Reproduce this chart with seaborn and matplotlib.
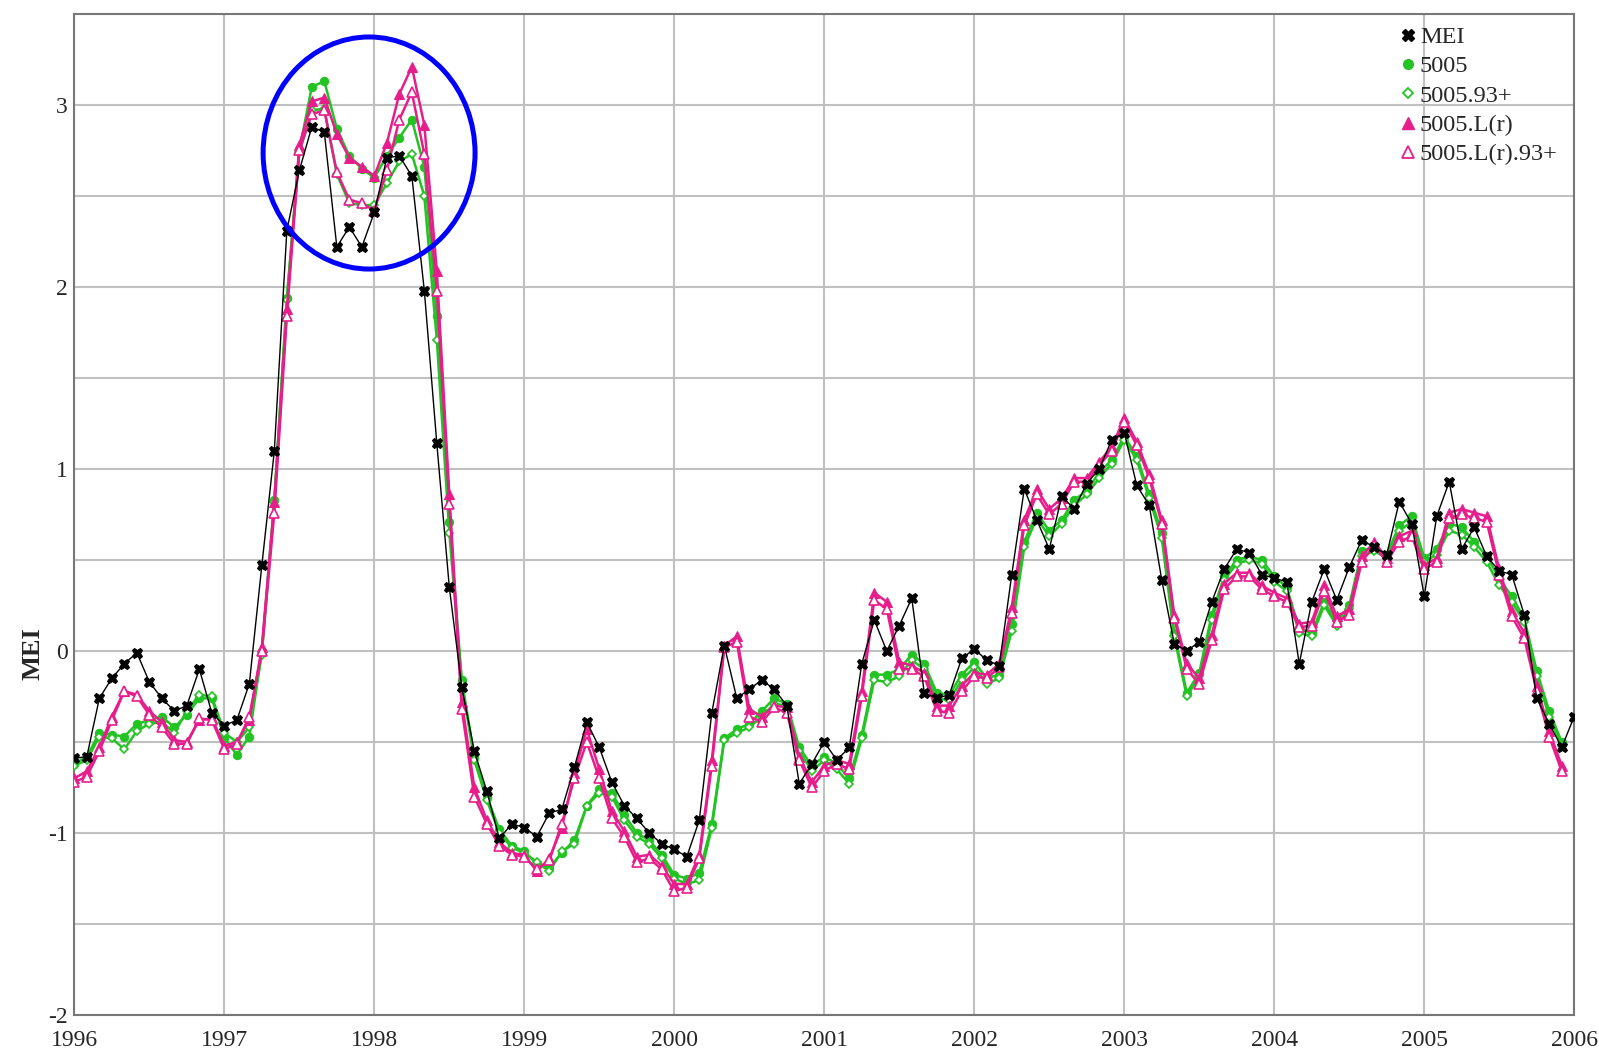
import numpy as np
import matplotlib
matplotlib.use("Agg")
import matplotlib.pyplot as plt
from matplotlib.lines import Line2D
from matplotlib.patches import Ellipse
import seaborn as sns

# monthly values, Jan 1996 ...
mei = [-0.59, -0.58, -0.26, -0.15, -0.07, -0.01, -0.17, -0.26, -0.33, -0.30, -0.10, -0.34,
       -0.41, -0.38, -0.18, 0.47, 1.10, 2.31, 2.64, 2.88, 2.85, 2.22, 2.33, 2.22,
       2.41, 2.71, 2.72, 2.61, 1.98, 1.14, 0.35, -0.20, -0.55, -0.77, -1.03, -0.95,
       -0.97, -1.02, -0.89, -0.87, -0.64, -0.39, -0.53, -0.72, -0.85, -0.92, -1.00, -1.06,
       -1.09, -1.13, -0.93, -0.34, 0.03, -0.26, -0.21, -0.16, -0.21, -0.30, -0.73, -0.62,
       -0.50, -0.60, -0.53, -0.07, 0.17, 0.00, 0.14, 0.29, -0.23, -0.26, -0.24, -0.04,
       0.01, -0.05, -0.08, 0.42, 0.89, 0.72, 0.56, 0.85, 0.78, 0.92, 1.00, 1.16,
       1.20, 0.91, 0.80, 0.39, 0.04, 0.00, 0.05, 0.27, 0.45, 0.56, 0.54, 0.42,
       0.40, 0.38, -0.07, 0.27, 0.45, 0.28, 0.46, 0.61, 0.57, 0.53, 0.82, 0.70,
       0.30, 0.74, 0.93, 0.56, 0.68, 0.52, 0.44, 0.42, 0.20, -0.26, -0.40, -0.53,
       -0.36]

m5005 = [-0.62, -0.58, -0.45, -0.46, -0.47, -0.40, -0.38, -0.36, -0.42, -0.35, -0.26, -0.26,
         -0.48, -0.57, -0.47, 0.00, 0.83, 1.94, 2.75, 3.10, 3.13, 2.87, 2.72, 2.65,
         2.60, 2.72, 2.82, 2.92, 2.66, 1.84, 0.71, -0.16, -0.58, -0.80, -0.98, -1.07,
         -1.10, -1.17, -1.19, -1.11, -1.04, -0.85, -0.76, -0.78, -0.90, -1.00, -1.04, -1.12,
         -1.23, -1.25, -1.22, -0.95, -0.48, -0.43, -0.40, -0.33, -0.26, -0.29, -0.53, -0.63,
         -0.58, -0.62, -0.70, -0.46, -0.13, -0.13, -0.10, -0.02, -0.07, -0.23, -0.24, -0.13,
         -0.06, -0.15, -0.13, 0.15, 0.60, 0.76, 0.66, 0.72, 0.83, 0.88, 0.98, 1.05,
         1.18, 1.07, 0.86, 0.65, 0.10, -0.23, -0.12, 0.20, 0.41, 0.50, 0.52, 0.50,
         0.41, 0.35, 0.12, 0.10, 0.27, 0.16, 0.25, 0.55, 0.57, 0.53, 0.69, 0.74,
         0.51, 0.56, 0.70, 0.68, 0.60, 0.52, 0.40, 0.30, 0.18, -0.11, -0.33, -0.50]

m5005_93 = [-0.63, -0.60, -0.47, -0.48, -0.54, -0.44, -0.40, -0.39, -0.45, -0.33, -0.24, -0.25,
            -0.45, -0.50, -0.42, -0.02, 0.82, 1.93, 2.74, 2.97, 2.98, 2.62, 2.46, 2.45,
            2.45, 2.57, 2.69, 2.73, 2.50, 1.71, 0.65, -0.18, -0.60, -0.82, -1.00, -1.08,
            -1.11, -1.16, -1.21, -1.10, -1.06, -0.85, -0.78, -0.80, -0.93, -1.02, -1.06, -1.14,
            -1.25, -1.28, -1.26, -0.97, -0.49, -0.45, -0.42, -0.36, -0.29, -0.30, -0.55, -0.66,
            -0.60, -0.65, -0.73, -0.48, -0.16, -0.17, -0.14, -0.05, -0.10, -0.26, -0.27, -0.16,
            -0.09, -0.18, -0.15, 0.11, 0.57, 0.73, 0.63, 0.70, 0.80, 0.86, 0.95, 1.03,
            1.16, 1.05, 0.84, 0.62, 0.08, -0.25, -0.14, 0.17, 0.39, 0.48, 0.50, 0.48,
            0.38, 0.33, 0.10, 0.08, 0.25, 0.14, 0.23, 0.52, 0.55, 0.51, 0.66, 0.71,
            0.49, 0.53, 0.66, 0.64, 0.57, 0.49, 0.36, 0.27, 0.16, -0.14, -0.36, -0.52]

m5005_lr = [-0.70, -0.66, -0.53, -0.36, -0.22, -0.24, -0.33, -0.39, -0.49, -0.50, -0.38, -0.37,
            -0.52, -0.50, -0.38, 0.02, 0.82, 1.88, 2.78, 3.02, 3.04, 2.84, 2.71, 2.66,
            2.61, 2.79, 3.06, 3.21, 2.89, 2.09, 0.86, -0.28, -0.75, -0.93, -1.05, -1.11,
            -1.12, -1.21, -1.14, -0.97, -0.67, -0.43, -0.65, -0.88, -0.99, -1.13, -1.12, -1.18,
            -1.28, -1.28, -1.12, -0.60, 0.03, 0.08, -0.32, -0.36, -0.30, -0.31, -0.58, -0.72,
            -0.63, -0.60, -0.62, -0.22, 0.32, 0.27, -0.06, -0.08, -0.12, -0.30, -0.30, -0.19,
            -0.12, -0.13, -0.07, 0.24, 0.72, 0.89, 0.78, 0.84, 0.95, 0.95, 1.04, 1.12,
            1.28, 1.15, 0.97, 0.72, 0.20, -0.07, -0.15, 0.09, 0.37, 0.43, 0.43, 0.36,
            0.32, 0.29, 0.15, 0.16, 0.36, 0.19, 0.23, 0.52, 0.60, 0.51, 0.63, 0.66,
            0.47, 0.51, 0.76, 0.78, 0.76, 0.74, 0.45, 0.22, 0.10, -0.19, -0.44, -0.63]

m5005_lr_93 = [-0.72, -0.69, -0.55, -0.38, -0.22, -0.25, -0.35, -0.42, -0.51, -0.51, -0.37, -0.38,
               -0.54, -0.51, -0.36, 0.00, 0.76, 1.84, 2.75, 2.95, 2.97, 2.63, 2.48, 2.46,
               2.42, 2.64, 2.92, 3.07, 2.73, 1.98, 0.81, -0.32, -0.80, -0.95, -1.07, -1.12,
               -1.13, -1.20, -1.15, -0.95, -0.70, -0.50, -0.70, -0.92, -1.02, -1.16, -1.14, -1.20,
               -1.32, -1.30, -1.14, -0.63, 0.02, 0.05, -0.36, -0.39, -0.31, -0.34, -0.60, -0.75,
               -0.66, -0.62, -0.65, -0.25, 0.28, 0.23, -0.10, -0.10, -0.14, -0.33, -0.34, -0.22,
               -0.14, -0.15, -0.09, 0.21, 0.69, 0.86, 0.75, 0.81, 0.93, 0.93, 1.02, 1.10,
               1.26, 1.13, 0.95, 0.70, 0.18, -0.10, -0.18, 0.06, 0.34, 0.41, 0.41, 0.34,
               0.30, 0.27, 0.13, 0.14, 0.33, 0.16, 0.20, 0.49, 0.58, 0.49, 0.60, 0.63,
               0.45, 0.49, 0.73, 0.75, 0.73, 0.71, 0.42, 0.19, 0.07, -0.22, -0.47, -0.66]

labels = ["MEI", "5005", "5005.93+", "5005.L(r)", "5005.L(r).93+"]
year_ticks = list(range(1996, 2007))
value_ticks = [-2, -1, 0, 1, 2, 3]

t_mei = 1996 + np.arange(len(mei)) / 12.0
t_mod = 1996 + np.arange(len(m5005)) / 12.0

green = "#22c322"
pink = "#e61e8c"

sns.set_style("white")
plt.rcParams["font.family"] = ["Liberation Serif", "DejaVu Serif"]

fig = plt.figure(figsize=(15.99, 10.49), dpi=100)
ax = fig.add_axes([0.0465, 0.0324, 0.938, 0.9543])

sns.lineplot(x=t_mod, y=m5005, ax=ax, color=green, lw=1.8, marker="o", markersize=6,
             markerfacecolor=green, markeredgecolor=green, zorder=3)
sns.lineplot(x=t_mod, y=m5005_93, ax=ax, color=green, lw=1.8, marker="D", markersize=4.5,
             markerfacecolor="white", markeredgecolor=green, markeredgewidth=1.2, zorder=3)
sns.lineplot(x=t_mod, y=m5005_lr, ax=ax, color=pink, lw=1.8, marker="^", markersize=6.5,
             markerfacecolor=pink, markeredgecolor=pink, zorder=4)
sns.lineplot(x=t_mod, y=m5005_lr_93, ax=ax, color=pink, lw=1.8, marker="^", markersize=6.5,
             markerfacecolor="white", markeredgecolor=pink, markeredgewidth=1.2, zorder=4)
sns.lineplot(x=t_mei, y=mei, ax=ax, color="black", lw=1.0, marker="X", markersize=7.5,
             markerfacecolor="black", markeredgecolor="black", zorder=5)

ax.set_xlim(1996, 2006)
ax.set_ylim(-2, 3.5)
ax.set_xticks(year_ticks)
ax.set_xticklabels([str(y) for y in year_ticks])
ax.set_xticks(np.arange(1996.5, 2006, 1.0), minor=True)
ax.set_yticks(value_ticks)
ax.set_yticklabels([str(v) for v in value_ticks])
ax.set_yticks(np.arange(-1.5, 3.5, 1.0), minor=True)

ax.grid(True, which="major", axis="both", color="#c0c0c0", lw=1.5)
ax.grid(True, which="minor", axis="y", color="#c0c0c0", lw=1.5)
ax.set_axisbelow(True)
ax.tick_params(axis="both", which="both", direction="in", length=3, labelsize=17,
               color="#666666")
ax.tick_params(axis="x", which="major", pad=11)
ax.tick_params(axis="y", which="major", pad=5)
for s in ax.spines.values():
    s.set_color("#777777")
    s.set_linewidth(1.5)

ax.set_xlabel("")
ax.set_ylabel("MEI", fontsize=19, fontweight="bold")
ax.yaxis.set_label_coords(-0.02, 0.361)

handles = [
    Line2D([], [], ls="none", marker="X", color="black", markersize=8),
    Line2D([], [], ls="none", marker="o", color=green, markersize=7),
    Line2D([], [], ls="none", marker="D", markerfacecolor="white", markeredgecolor=green,
           markeredgewidth=1.3, markersize=5),
    Line2D([], [], ls="none", marker="^", color=pink, markersize=8),
    Line2D([], [], ls="none", marker="^", markerfacecolor="white", markeredgecolor=pink,
           markeredgewidth=1.3, markersize=8),
]
ax.legend(handles, labels, loc="upper right", bbox_to_anchor=(0.997, 1.0), frameon=False,
          fontsize=17.5, handlelength=0.7, handletextpad=0.15, labelspacing=0.3,
          borderaxespad=0.25, borderpad=0.25)

ring = Ellipse((1997.965, 2.736), width=1.413, height=1.275, fill=False,
               edgecolor="#0000ff", lw=3.6, zorder=6)
ax.add_patch(ring)

fig.savefig("out.png", dpi=100)
